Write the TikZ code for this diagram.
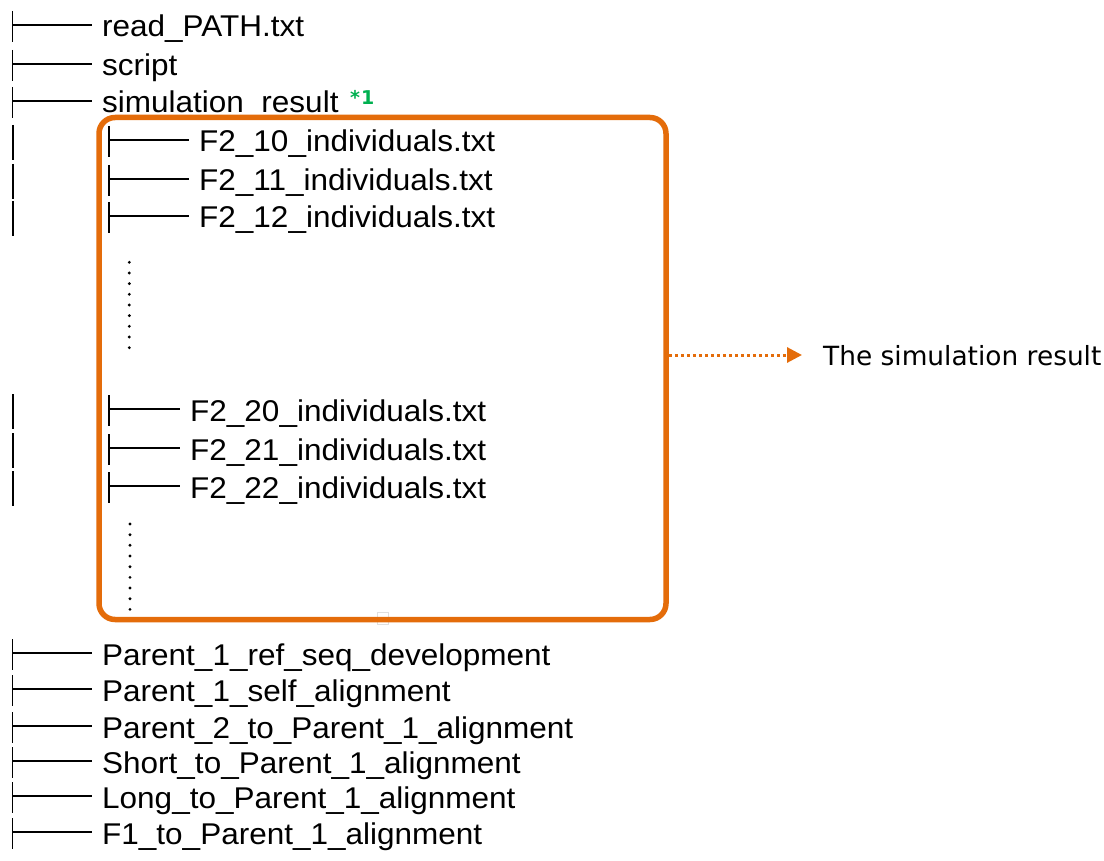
\documentclass[tikz,border=0pt]{standalone}
\usepackage{fontspec}
\setmainfont{Liberation Sans}[FakeStretch=1.05]
\newfontfamily\labelfont{DejaVu Sans}
\usetikzlibrary{calc,arrows.meta}
\definecolor{boxorange}{RGB}{228,108,10}
\definecolor{notegreen}{RGB}{0,176,80}
\tikzset{
  entry/.style={anchor=base west, inner sep=0pt, font=\fontsize{30}{36}\selectfont},
  tick/.style={line width=1.3pt, black},
  branch/.style={line width=1.9pt, black},
  bar/.style={line width=2.2pt, black},
  dotmark/.style={fill=black, draw=none},
  groupbox/.style={draw=boxorange, line width=5.5pt, rounded corners=16pt,
    minimum width=567pt, minimum height=502pt, inner sep=0pt},
  pointer/.style={draw=boxorange, line width=3pt, dash pattern=on 3pt off 3pt,
    -{Triangle[length=15pt,width=15pt,fill=boxorange]}},
}
\begin{document}
\begin{tikzpicture}[x=1pt,y=-1pt]
\useasboundingbox (0,0) rectangle (1104,861);

% top-level entries: name, baseline
\foreach \n/\t/\b in {r1/read\_PATH.txt/37, r2/script/76, r3/simulation\_result/113,
    p1/Parent\_1\_ref\_seq\_development/665, p2/Parent\_1\_self\_alignment/701,
    p3/Parent\_2\_to\_Parent\_1\_alignment/738, p4/Short\_to\_Parent\_1\_alignment/773,
    p5/Long\_to\_Parent\_1\_alignment/808, p6/F1\_to\_Parent\_1\_alignment/844} {
  \node[entry] (\n) at (102,\b) {\t};
  \coordinate (\n-root) at ($(\n.base west)+(-89.5,0)$);
  \draw[tick] ($(\n-root)+(0,-26)$) -- ($(\n-root)+(0,5)$);
  \draw[branch] ($(\n-root)+(0,-12)$) -- ($(\n.base west)+(-10,-12)$);
}

% footnote mark on the result folder
\node[anchor=base west, inner sep=0pt, text=notegreen,
  font=\labelfont\bfseries\fontsize{19}{22}\selectfont] (note) at (350,105) {*\hspace{1pt}1};

% files inside the result folder
\foreach \n/\t/\b/\x in {f10/F2\_10\_individuals.txt/152/199, f11/F2\_11\_individuals.txt/191/199,
    f12/F2\_12\_individuals.txt/228/199, f20/F2\_20\_individuals.txt/421/190,
    f21/F2\_21\_individuals.txt/460/190, f22/F2\_22\_individuals.txt/498/190} {
  \node[entry] (\n) at (\x,\b) {\t};
  \coordinate (\n-root) at (109,\b);
  \draw[tick] ($(\n-root)+(0,-26)$) -- ($(\n-root)+(0,5)$);
  \draw[branch] ($(\n-root)+(0,-12)$) -- ($(\n.base west)+(-10.5,-12)$);
  \draw[bar] (13,\b-27) -- (13,\b+8);
}

% elided entries
\foreach \k in {0,...,8} {
  \fill[dotmark] (129.3,262.3+10.67*\k) circle (1.6pt);
  \fill[dotmark] (130,524+10.67*\k) circle (1.6pt);
}

\draw[gray!25, line width=0.8pt] (377,612) rectangle (388,624);

% frame around the simulation output
\node[groupbox] (box) at (382.5,368.5) {};

% label for the framed group
\node[anchor=base west, inner sep=0pt, font=\labelfont\fontsize{26.4}{30}\selectfont] (lbl) at (823,366) {The simulation result};
\coordinate (tip) at (802,355);
\draw[pointer] (box.east |- tip) -- (tip);
\end{tikzpicture}
\end{document}
